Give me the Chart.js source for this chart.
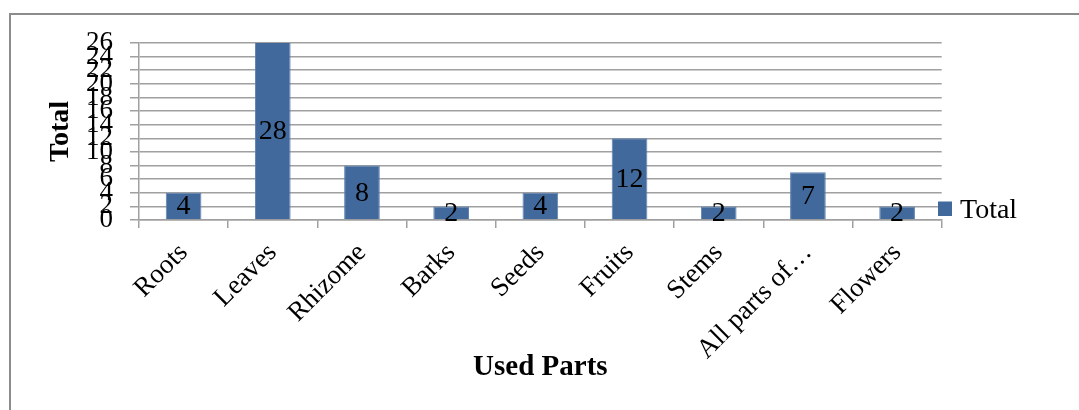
<!DOCTYPE html>
<html>
<head>
<meta charset="utf-8">
<script src="https://cdn.jsdelivr.net/npm/chart.js@4.4.1/dist/chart.umd.min.js"></script>
<style>
  html, body { margin: 0; padding: 0; background: #ffffff; }
  canvas { display: block; }
</style>
</head>
<body>
<canvas id="chart" width="1079" height="410"></canvas>
<script>
// Plant parts used and how many times each was reported
const categories = ['Roots', 'Leaves', 'Rhizome', 'Barks', 'Seeds', 'Fruits', 'Stems', 'All parts of\u2026', 'Flowers'];
const totals = [4, 28, 8, 2, 4, 12, 2, 7, 2];
const seriesName = 'Total';

// Value axis range and step
const yMin = 0;
const yMax = 26;
const yStep = 2;

const FONT = '"Liberation Serif", "Times New Roman", serif';
const BAR_COLOR = '#41699b';
const GRID_COLOR = '#a0a0a0';

// Outer frame of the chart object (top and left edges)
const framePlugin = {
  id: 'frame',
  beforeDraw(chart) {
    const ctx = chart.ctx;
    ctx.save();
    ctx.strokeStyle = '#8c8c8c';
    ctx.lineWidth = 2;
    ctx.beginPath();
    ctx.moveTo(1079, 14);
    ctx.lineTo(10, 14);
    ctx.lineTo(10, 410);
    ctx.stroke();
    ctx.restore();
  }
};

// Value labels, centred in the visible part of each bar
const valueLabelPlugin = {
  id: 'valueLabels',
  afterDatasetsDraw(chart) {
    const ctx = chart.ctx;
    const area = chart.chartArea;
    chart.data.datasets.forEach((ds, di) => {
      const meta = chart.getDatasetMeta(di);
      meta.data.forEach((bar, i) => {
        const top = Math.max(Math.min(bar.y, bar.base), area.top);
        const bottom = Math.min(Math.max(bar.y, bar.base), area.bottom);
        ctx.save();
        ctx.font = '28px ' + FONT;
        ctx.fillStyle = '#000000';
        ctx.textAlign = 'center';
        ctx.textBaseline = 'middle';
        ctx.fillText(String(ds.data[i]), bar.x, (top + bottom) / 2 + 1);
        ctx.restore();
      });
    });
  }
};

// Series legend placed to the right of the plot area
const sideLegendPlugin = {
  id: 'sideLegend',
  afterDraw(chart) {
    const ctx = chart.ctx;
    const ds = chart.data.datasets[0];
    ctx.save();
    ctx.fillStyle = ds.backgroundColor;
    ctx.fillRect(938, 201.5, 14, 14.5);
    ctx.font = '28px ' + FONT;
    ctx.fillStyle = '#000000';
    ctx.textAlign = 'left';
    ctx.textBaseline = 'alphabetic';
    ctx.fillText(ds.label, 960, 218);
    ctx.restore();
  }
};

new Chart(document.getElementById('chart'), {
  type: 'bar',
  data: {
    labels: categories,
    datasets: [{
      label: seriesName,
      data: totals,
      backgroundColor: BAR_COLOR,
      borderColor: '#5f82b0',
      borderWidth: 1,
      barPercentage: 0.4,
      categoryPercentage: 1.0,
      clip: 0
    }]
  },
  options: {
    responsive: false,
    devicePixelRatio: 1,
    animation: false,
    layout: { padding: { left: 0, top: 43, right: 137.3, bottom: 0 } },
    plugins: {
      legend: { display: false },
      tooltip: { enabled: false },
      title: { display: false }
    },
    scales: {
      x: {
        type: 'category',
        offset: true,
        afterFit(scale) { scale.height = 190; },
        grid: {
          offset: true,
          drawOnChartArea: false,
          drawTicks: true,
          tickLength: 8,
          color: GRID_COLOR,
          lineWidth: 1.5
        },
        border: { display: true, color: GRID_COLOR, width: 1.5 },
        ticks: {
          autoSkip: false,
          minRotation: 45,
          maxRotation: 45,
          padding: 9,
          color: '#000000',
          font: { family: FONT, size: 27 }
        },
        title: {
          display: true,
          text: 'Used Parts',
          color: '#000000',
          font: { family: FONT, size: 29, weight: 'bold' },
          padding: { top: 0, bottom: 24.6 }
        }
      },
      y: {
        min: yMin,
        max: yMax,
        afterFit(scale) { scale.width = 139; },
        grid: {
          color: GRID_COLOR,
          lineWidth: 1.5,
          tickLength: 9,
          drawTicks: true
        },
        border: { display: true, color: GRID_COLOR, width: 1.5 },
        ticks: {
          stepSize: yStep,
          autoSkip: false,
          padding: 17,
          color: '#000000',
          font: { family: FONT, size: 27 }
        },
        title: {
          display: true,
          text: 'Total',
          color: '#000000',
          font: { family: FONT, size: 28, weight: 'bold' },
          padding: { top: 44.2, bottom: 0 }
        }
      }
    }
  },
  plugins: [framePlugin, valueLabelPlugin, sideLegendPlugin]
});
</script>
</body>
</html>
